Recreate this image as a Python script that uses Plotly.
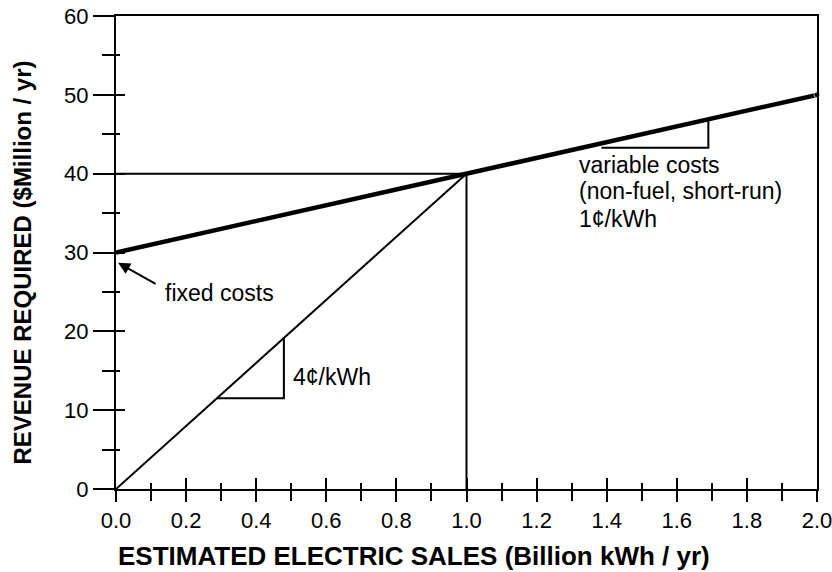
import plotly.graph_objects as go

# ---- data ----
sales_total = [0.0, 2.0]          # Billion kWh / yr
cost_total = [30, 50]             # $Million / yr (fixed 30 + 1c/kWh)
sales_rev = [0.0, 1.0]
revenue_rev = [0, 40]             # 4c/kWh
est_sales = 1.0
est_revenue = 40
tri4_x = [0.288, 0.479, 0.479]
tri4_y = [11.5, 11.5, 19.2]
tri1_x = [1.385, 1.69, 1.69]
tri1_y = [43.3, 43.3, 46.9]
var_lines = ["variable costs", "(non-fuel, short-run)", "1\u00a2/kWh"]
var_line_y = [41.1, 37.8, 34.3]
x_ticks = [0.0, 0.2, 0.4, 0.6, 0.8, 1.0, 1.2, 1.4, 1.6, 1.8, 2.0]
x_ticklabels = ["0.0", "0.2", "0.4", "0.6", "0.8", "1.0", "1.2", "1.4", "1.6", "1.8", "2.0"]
y_ticks = [0, 10, 20, 30, 40, 50, 60]

FONT = "Arial, Liberation Sans, Helvetica, sans-serif"
BLACK = "black"

fig = go.Figure()

def line(x, y, w):
    fig.add_trace(go.Scatter(x=x, y=y, mode="lines",
                             line=dict(color=BLACK, width=w),
                             showlegend=False, hoverinfo="skip"))

line([0.0, est_sales], [est_revenue, est_revenue], 2)
line([est_sales, est_sales], [0, est_revenue], 2)
line(sales_rev, revenue_rev, 2)
line(tri4_x, tri4_y, 2)
line(tri1_x, tri1_y, 2)
fig.add_trace(go.Scatter(x=sales_total, y=cost_total, mode="lines+markers",
                         line=dict(color=BLACK, width=4.5),
                         marker=dict(color=BLACK, size=[0, 6]), cliponaxis=False,
                         showlegend=False, hoverinfo="skip"))

ann_font = dict(family=FONT, size=23, color=BLACK)
for txt, yy in zip(var_lines, var_line_y):
    fig.add_annotation(x=1.316, y=yy, xref="x", yref="y", xanchor="left", yanchor="middle",
                       showarrow=False, font=ann_font, text=txt)
fig.add_annotation(x=0.4986, y=14.2, xref="x", yref="y", xanchor="left", yanchor="middle",
                   showarrow=False, font=ann_font, text="4\u00a2/kWh")
fig.add_annotation(x=0.134, y=24.9, xref="x", yref="y", xanchor="left", yanchor="middle",
                   showarrow=False, font=ann_font, text="fixed costs")
fig.add_annotation(x=0.006, y=28.7, xref="x", yref="y", ax=39, ay=22, text="",
                   showarrow=True, arrowhead=2, arrowsize=1.2, arrowwidth=2, arrowcolor=BLACK)

# axis titles as annotations for exact placement
fig.add_annotation(x=0, y=0.5, xref="paper", yref="paper", xanchor="center", yanchor="middle",
                   xshift=-94, yshift=-10, textangle=-90, showarrow=False,
                   font=dict(family=FONT, size=24, color=BLACK),
                   text="<b>REVENUE REQUIRED ($Million / yr)</b>")
fig.add_annotation(x=0, y=0, xref="paper", yref="paper", xanchor="left", yanchor="middle",
                   xshift=0, yshift=-67, showarrow=False,
                   font=dict(family=FONT, size=26, color=BLACK),
                   text="<b>ESTIMATED ELECTRIC SALES (Billion kWh / yr)</b>")

tick_font = dict(family=FONT, size=22, color=BLACK)

fig.update_layout(
    width=832, height=572,
    margin=dict(l=116, r=15, t=16, b=83),
    paper_bgcolor="white", plot_bgcolor="white",
    showlegend=False,
    xaxis=dict(range=[0, 2], tickvals=x_ticks, ticktext=x_ticklabels, automargin=False,
               ticklabeloverflow="allow",
               ticks="outside", ticklen=11, tickwidth=2, tickcolor=BLACK,
               minor=dict(dtick=0.1, ticks="outside", ticklen=10, tickwidth=2, tickcolor=BLACK, showgrid=False),
               showline=True, linewidth=2, linecolor=BLACK, mirror=True,
               showgrid=False, zeroline=False, tickfont=tick_font),
    yaxis=dict(range=[0, 60], tickvals=y_ticks, automargin=False,
               ticklabeloverflow="allow",
               ticks="outside", ticklen=21, tickwidth=2, tickcolor=BLACK,
               minor=dict(dtick=5, ticks="outside", ticklen=12, tickwidth=2, tickcolor=BLACK, showgrid=False),
               showline=True, linewidth=2, linecolor=BLACK, mirror=True,
               showgrid=False, zeroline=False, tickfont=tick_font),
    xaxis2=dict(range=[0, 2], overlaying="x", anchor="y", side="bottom", tickvals=x_ticks, automargin=False,
                ticks="inside", ticklen=11, tickwidth=2, tickcolor=BLACK,
                minor=dict(dtick=0.1, ticks="inside", ticklen=6, tickwidth=2, tickcolor=BLACK, showgrid=False),
                showticklabels=False, showline=False, showgrid=False, zeroline=False),
    yaxis2=dict(range=[0, 60], overlaying="y", anchor="x", side="left", tickvals=y_ticks, automargin=False,
                ticks="inside", ticklen=9, tickwidth=2, tickcolor=BLACK,
                minor=dict(dtick=5, ticks="inside", ticklen=4, tickwidth=2, tickcolor=BLACK, showgrid=False),
                showticklabels=False, showline=False, showgrid=False, zeroline=False),
)
fig.add_trace(go.Scatter(x=[0], y=[0], xaxis="x2", yaxis="y2", mode="lines",
                         line=dict(width=0), showlegend=False, hoverinfo="skip"))

fig.write_html("out.html", config={"displayModeBar": False},
               post_script="document.body.style.margin='0px';")
